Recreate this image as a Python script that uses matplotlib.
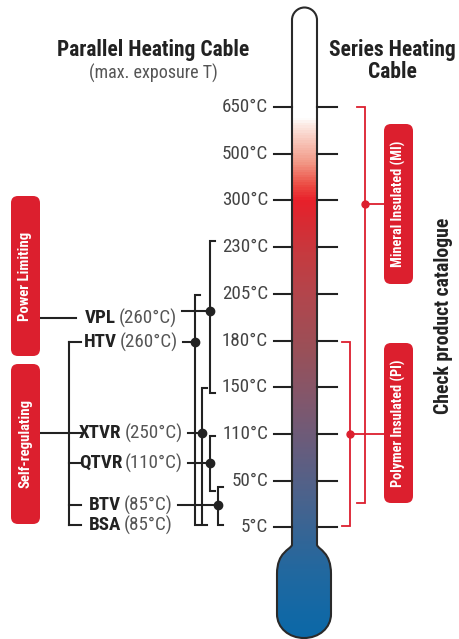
import numpy as np
import matplotlib.pyplot as plt
from matplotlib.path import Path
from matplotlib.patches import PathPatch, FancyBboxPatch
from matplotlib.colors import LinearSegmentedColormap

plt.rcParams['font.family'] = ['Roboto Condensed', 'Roboto', 'DejaVu Sans']

# ---- data ----
temps = ['650°C', '500°C', '300°C', '230°C', '205°C', '180°C', '150°C', '110°C', '50°C', '5°C']

cables = ['VPL', 'HTV', 'XTVR', 'QTVR', 'BTV', 'BSA']
max_exposure = ['(260°C)', '(260°C)', '(250°C)', '(110°C)', '(85°C)', '(85°C)']
cable_range = [('230°C', '150°C'), ('205°C', '5°C'), ('150°C', '5°C'),
               ('110°C', '50°C'), ('50°C', '5°C'), None]

groups = ['Power Limiting', 'Self-regulating']
group_members = [['VPL'], ['HTV', 'XTVR', 'QTVR', 'BTV', 'BSA']]

series = ['Mineral Insulated (MI)', 'Polymer Insulated (PI)']
series_range = [('650°C', '50°C'), ('180°C', '5°C')]

# ---- layout ----
RED = '#dc1f2e'
DARK = '#222222'
y0, dy = 107, 46.7


def ty(t):
    return y0 + dy * temps.index(t)


fig = plt.figure(figsize=(4.6, 6.39), dpi=100)
ax = fig.add_axes([0, 0, 1, 1])
ax.set_xlim(0, 460)
ax.set_ylim(639, 0)
ax.axis('off')

# thermometer outline
k = 0.5523
r = 12.5
cx = 304.5
verts = [(292, 20), (292, 20 - r * k), (cx - r * k, 20 - r), (cx, 20 - r),
         (cx + r * k, 20 - r), (317, 20 - r * k), (317, 20),
         (317, 545),
         (319, 550), (331, 552), (331, 574),
         (331, 614),
         (331, 628), (319, 638), (304, 638),
         (289, 638), (277, 628), (277, 614),
         (277, 574),
         (277, 552), (290, 550), (292, 545),
         (292, 20)]
codes = [Path.MOVETO, Path.CURVE4, Path.CURVE4, Path.CURVE4,
         Path.CURVE4, Path.CURVE4, Path.CURVE4,
         Path.LINETO,
         Path.CURVE4, Path.CURVE4, Path.CURVE4,
         Path.LINETO,
         Path.CURVE4, Path.CURVE4, Path.CURVE4,
         Path.CURVE4, Path.CURVE4, Path.CURVE4,
         Path.LINETO,
         Path.CURVE4, Path.CURVE4, Path.CURVE4,
         Path.CLOSEPOLY]
therm = PathPatch(Path(verts, codes), facecolor='none', edgecolor='#2a2a2a', lw=1.5, zorder=3)
ax.add_patch(therm)

stops = [(0, '#ffffff'), (117, '#ffffff'), (122, '#fdeee9'), (140, '#f8c6ba'),
         (162, '#f29886'), (185, '#ec4a42'), (200, '#e8202a'), (222, '#d82b33'),
         (255, '#c53b40'), (300, '#b0474e'), (350, '#9a5058'), (400, '#82576c'),
         (450, '#665d7e'), (500, '#4a638d'), (545, '#306698'), (570, '#23689f'),
         (610, '#1469a5'), (639, '#0b68a8')]
cmap = LinearSegmentedColormap.from_list('therm', [(p / 639, c) for p, c in stops])
grad = np.linspace(0, 1, 639).reshape(-1, 1)
im = ax.imshow(grad, cmap=cmap, extent=(276, 332, 639, 0), aspect='auto', zorder=2)
im.set_clip_path(therm)

# temperature ticks
for t in temps:
    y = ty(t)
    ax.plot([274, 292], [y, y], color=DARK, lw=1.5, zorder=4)
    ax.plot([317, 337], [y, y], color=DARK, lw=1.5, zorder=4)
    ax.text(268, y, t, ha='right', va='center', fontsize=13.7, color='#444444')

# titles
ax.text(153, 50, 'Parallel Heating Cable', ha='center', va='center',
        fontsize=15.5, fontweight='bold', color=DARK)
ax.text(153, 73, '(max. exposure T)', ha='center', va='center', fontsize=13, color='#555555')
ax.text(392, 50, 'Series Heating', ha='center', va='center',
        fontsize=15.5, fontweight='bold', color=DARK)
ax.text(392, 72, 'Cable', ha='center', va='center',
        fontsize=15.5, fontweight='bold', color=DARK)
ax.text(444, 316, 'Check product catalogue', ha='center', va='center', rotation=90,
        fontsize=14.2, fontweight='bold', color=DARK)

# parallel cable labels
label_y = [318, 342, 433, 463, 505, 525]
dot_y = [311, 342, 433, 463, 505, None]
bracket_x = [210, 195, 202, 210, 218]
bracket_pad = [(-6, 6), (1, -2), (1, -2), (2, 10), (6, -2)]
rend = fig.canvas.get_renderer()
label_end = []
for name, val, y in zip(cables, max_exposure, label_y):
    t1 = ax.text(0, y, name, ha='left', va='center', fontsize=13.7, fontweight='bold', color=DARK)
    t2 = ax.text(0, y, val, ha='left', va='center', fontsize=13.7, color='#555555')
    w1 = t1.get_window_extent(rend).width
    w2 = t2.get_window_extent(rend).width
    x0 = 131 - (w1 + 3 + w2) / 2
    t1.set_x(x0)
    t2.set_x(x0 + w1 + 3)
    label_end.append(x0 + w1 + 3 + w2)

for i, rng in enumerate(cable_range):
    if rng is None:
        continue
    bx = bracket_x[i]
    top = ty(rng[0]) + bracket_pad[i][0]
    bot = ty(rng[1]) + bracket_pad[i][1]
    ax.plot([bx + 5, bx, bx, bx + 5], [top, top, bot, bot], color=DARK, lw=1.5,
            solid_joinstyle='miter', zorder=4)
    ax.plot([label_end[i] + 5, bx], [dot_y[i], dot_y[i]], color=DARK, lw=1.5, zorder=4)
    ax.plot(bx, dot_y[i], 'o', color=DARK, ms=6, zorder=5)

# group boxes and tree
box_span = [(196, 356), (364, 524)]
for g, members, (b0, b1) in zip(groups, group_members, box_span):
    ax.add_patch(FancyBboxPatch((11, b0), 29, b1 - b0, boxstyle='round,pad=0,rounding_size=7',
                                facecolor=RED, edgecolor='none', zorder=3))
    ax.text(25.5, (b0 + b1) / 2, g, rotation=90, ha='center', va='center',
            fontsize=10.6, fontweight='bold', color='white', zorder=4)
    ys = [label_y[cables.index(m)] for m in members]
    if len(ys) == 1:
        ax.plot([40, 76], [ys[0], ys[0]], color=DARK, lw=1.5)
    else:
        ax.plot([69, 69], [min(ys), max(ys)], color=DARK, lw=1.5)
        for y in ys:
            ax.plot([69, 81], [y, y], color=DARK, lw=1.5)
        ax.plot([40, 69], [label_y[2], label_y[2]], color=DARK, lw=1.5)

# series boxes and brackets
sbox_span = [(124, 284), (343, 503)]
sbr_x = [365, 350]
sbr_pad = [(0, 22), (1, -1)]
sdot_y = [204, 434]
for s, rng, (b0, b1), bx, pad, dyy in zip(series, series_range, sbox_span, sbr_x, sbr_pad, sdot_y):
    top = ty(rng[0]) + pad[0]
    bot = ty(rng[1]) + pad[1]
    ax.plot([bx - 8, bx, bx, bx - 8], [top, top, bot, bot], color=RED, lw=1.3,
            solid_joinstyle='miter', zorder=3)
    ax.plot([bx, 384], [dyy, dyy], color=RED, lw=1.3, zorder=3)
    ax.plot(bx, dyy, 'o', color=RED, ms=5, zorder=4)
    ax.add_patch(FancyBboxPatch((384, b0), 29, b1 - b0, boxstyle='round,pad=0,rounding_size=7',
                                facecolor=RED, edgecolor='none', zorder=3))
    ax.text(398.5, (b0 + b1) / 2, s, rotation=90, ha='center', va='center',
            fontsize=10.3, fontweight='bold', color='white', zorder=4)

fig.savefig('out.png', dpi=100)
